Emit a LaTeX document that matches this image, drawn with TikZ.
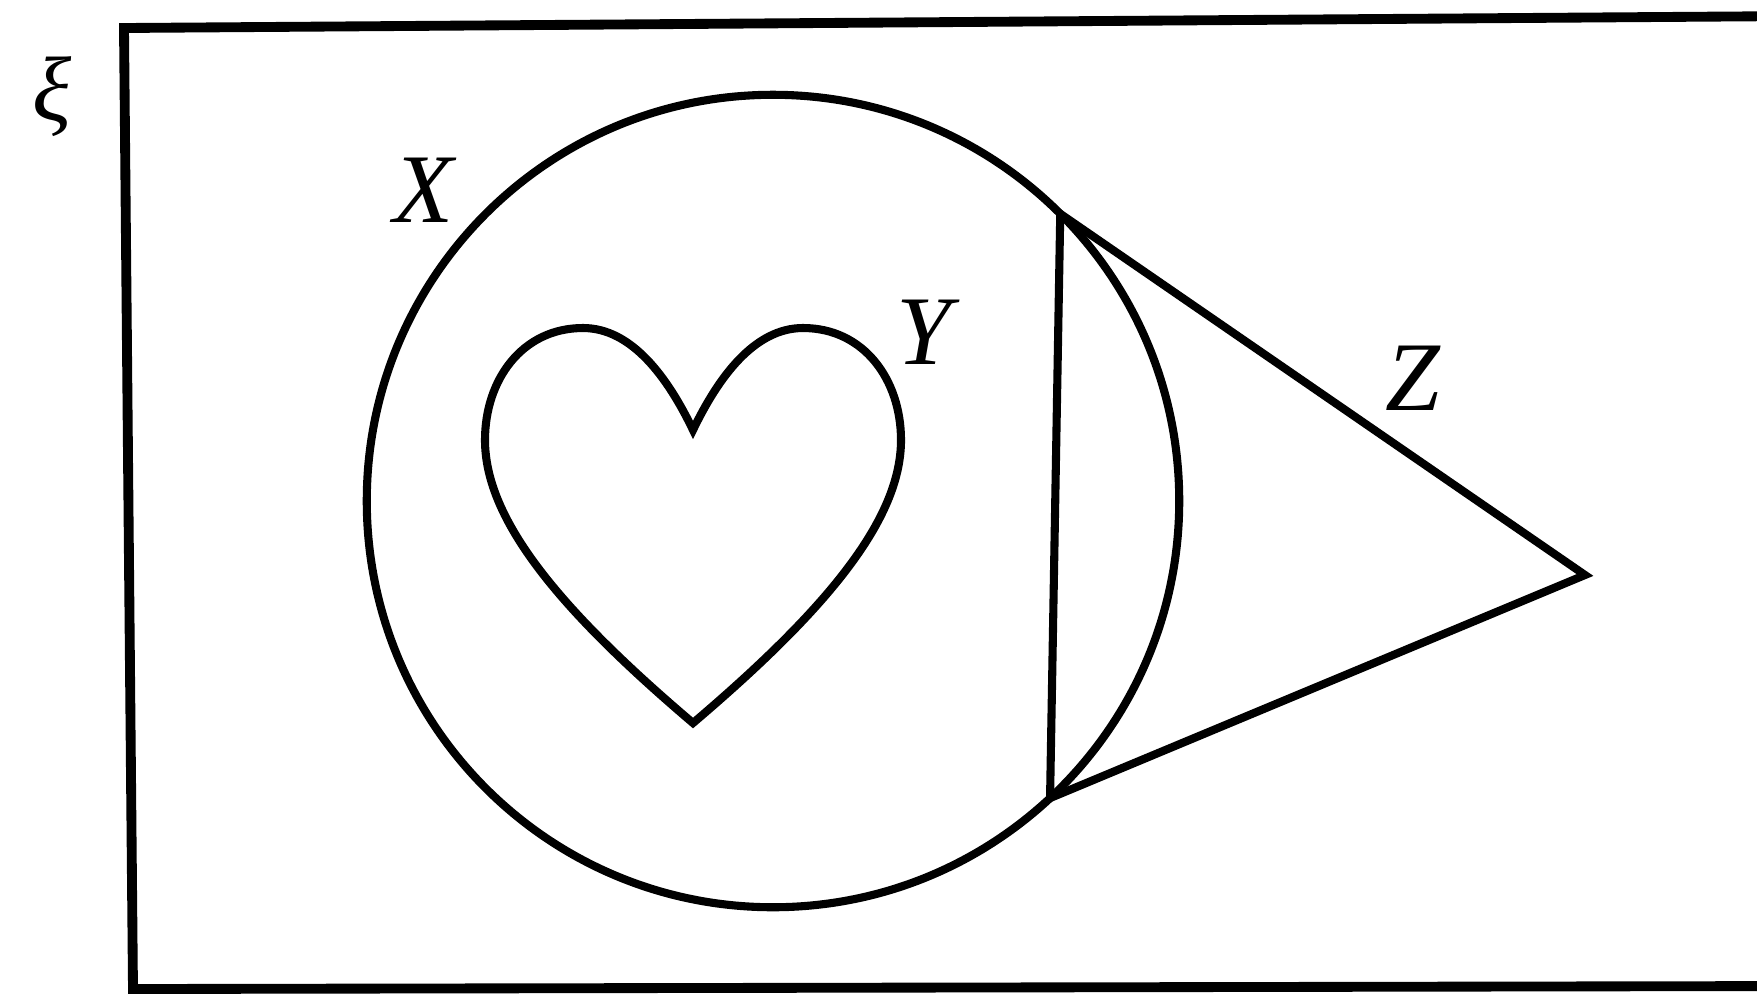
\documentclass[tikz,border=0pt]{standalone}
\usepackage{fontspec}
\setmainfont{Liberation Serif}
\usetikzlibrary{positioning}

\begin{document}
\begin{tikzpicture}[x=0.01cm, y=-0.01cm,
    outline/.style={draw, line width=2.3pt},
    setlabel/.style={font=\fontsize{28}{30}\selectfont\itshape, inner sep=0pt}]
    \useasboundingbox (0,0) rectangle (1757,996);
    % universal set
    \draw[outline, line width=2.8pt] (1800,16) -- (124,28) -- (133,989) -- (1800,986);
    \node[setlabel, font=\fontsize{26}{28}\selectfont\itshape] (xi) at (52,97) {ξ};
    % set X
    \node[outline, circle, minimum size=8.12cm, inner sep=0pt, outer sep=0pt] (X) at (773,501) {};
    \node[setlabel] (lblX) at (424,190) {X};
    % set Z
    \coordinate (zt) at (X.45);
    \coordinate (zb) at (X.-47.5);
    \coordinate (zr) at (1585,575);
    \draw[outline] (zt) -- (zb) -- (zr) -- cycle;
    \node[setlabel] (lblZ) at (1413,378) {Z};
    % set Y
    \coordinate (cusp) at (693,430);
    \coordinate (tip) at (693,723);
    \draw[outline] (cusp) .. controls (668,378) and (632,328) .. (583,328)
        .. controls (522,328) and (485,380) .. (485,440)
        .. controls (485,520) and (560,610) .. (tip)
        .. controls (826,610) and (901,520) .. (901,440)
        .. controls (901,380) and (864,328) .. (803,328)
        .. controls (754,328) and (718,378) .. (cusp) -- cycle;
    \node[setlabel] (lblY) at (924,332) {Y};
\end{tikzpicture}
\end{document}
